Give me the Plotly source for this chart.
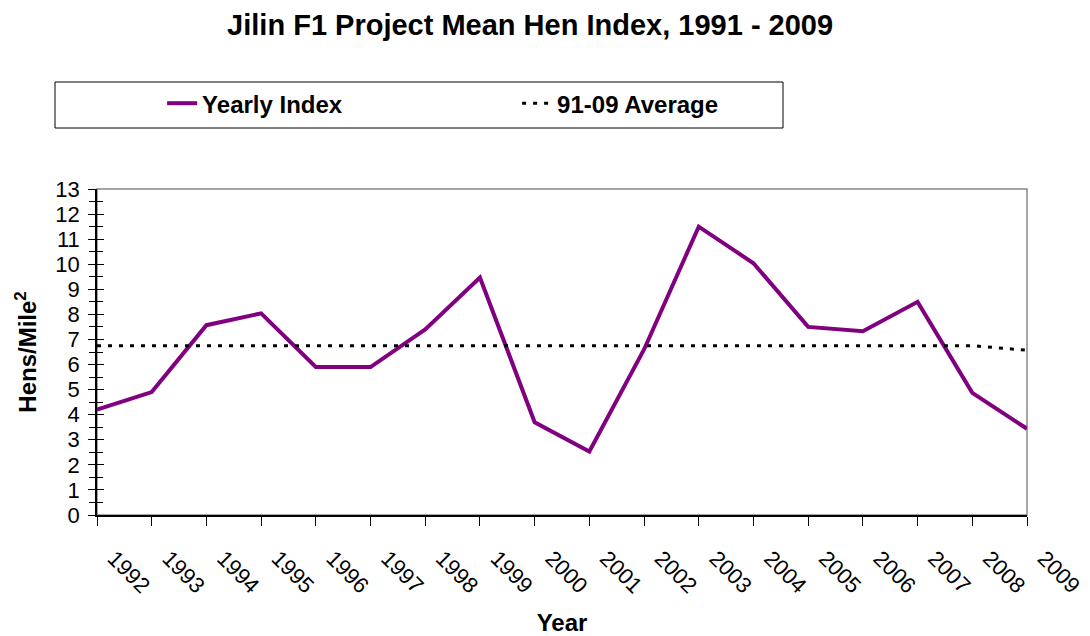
import plotly.graph_objects as go

years = list(range(1992, 2010))
yearly_index = [4.2, 4.9, 7.57, 8.04, 5.9, 5.9, 7.4, 9.47, 3.7, 2.53, 6.6, 11.5,
                10.04, 7.5, 7.33, 8.5, 4.87, 3.44]
average = [6.75] * 17 + [6.57]
tick_labels = [str(y) for y in years]

FONT = "Liberation Sans, Arial, sans-serif"

fig = go.Figure()
fig.add_trace(go.Scatter(x=years, y=yearly_index, mode="lines", name="Yearly Index",
                         line=dict(color="#800080", width=4)))
fig.add_trace(go.Scatter(x=years, y=average, mode="lines", name="91-09 Average",
                         line=dict(color="black", width=3, dash="4px,7px")))
# overlay axis only to produce ticks crossing the y axis
fig.add_trace(go.Scatter(x=[years[0]], y=[0], yaxis="y2", mode="markers",
                         marker=dict(opacity=0), showlegend=False, hoverinfo="skip"))

fig.update_layout(
    width=1090, height=636,
    paper_bgcolor="white", plot_bgcolor="white",
    margin=dict(l=89, r=71, t=181, b=129),
    font=dict(family=FONT, color="black"),
    title=dict(text="<b>Jilin F1 Project Mean Hen Index, 1991 - 2009</b>",
               x=0.479, xanchor="center", y=0.973, yanchor="middle",
               font=dict(size=29, family=FONT)),
    showlegend=True,
    legend=dict(orientation="h", x=0.07, xanchor="left", y=1.262, yanchor="middle",
                entrywidth=310, entrywidthmode="pixels",
                font=dict(size=24, family=FONT, weight="bold"), bgcolor="rgba(0,0,0,0)",
                traceorder="normal"),
    xaxis=dict(range=[1992, 2009], tickvals=years, ticktext=tick_labels,
               tickangle=45, tickfont=dict(size=22), ticklabelstandoff=11,
               ticklabelshift=17,
               ticks="outside", ticklen=9, tickwidth=1, tickcolor="black",
               showline=True, linecolor="black", linewidth=1.5,
               showgrid=False, zeroline=False,
               title=dict(text="<b>Year</b>", font=dict(size=24), standoff=17)),
    yaxis=dict(range=[0, 13], dtick=1, tick0=0,
               ticks="outside", ticklen=7, tickwidth=1.2, tickcolor="black",
               minor=dict(ticks="outside", dtick=0.5, ticklen=6, tickcolor="black", tickwidth=1),
               tickfont=dict(size=22), ticklabelstandoff=4,
               showline=True, linecolor="black", linewidth=1.5,
               showgrid=False, zeroline=False,
               title=dict(text="<b>Hens/Mile<sup>2</sup></b>", font=dict(size=24), standoff=12)),
    yaxis2=dict(overlaying="y", side="left", range=[0, 13], dtick=1,
                ticks="inside", ticklen=7, tickwidth=1.2, tickcolor="black",
                minor=dict(ticks="inside", dtick=0.5, ticklen=6, tickcolor="black", tickwidth=1),
                showticklabels=False, showgrid=False, zeroline=False, showline=False),
    shapes=[
        dict(type="rect", xref="paper", yref="paper", x0=0, x1=1, y0=0, y1=1,
             line=dict(color="#888888", width=1.5), layer="below"),
        dict(type="rect", xref="paper", yref="paper",
             x0=(55 - 97) / 930, x1=(783 - 97) / 930,
             y0=(515 - 128) / 326, y1=(515 - 82) / 326,
             line=dict(color="black", width=1)),
    ],
)

fig.write_html("out.html")
